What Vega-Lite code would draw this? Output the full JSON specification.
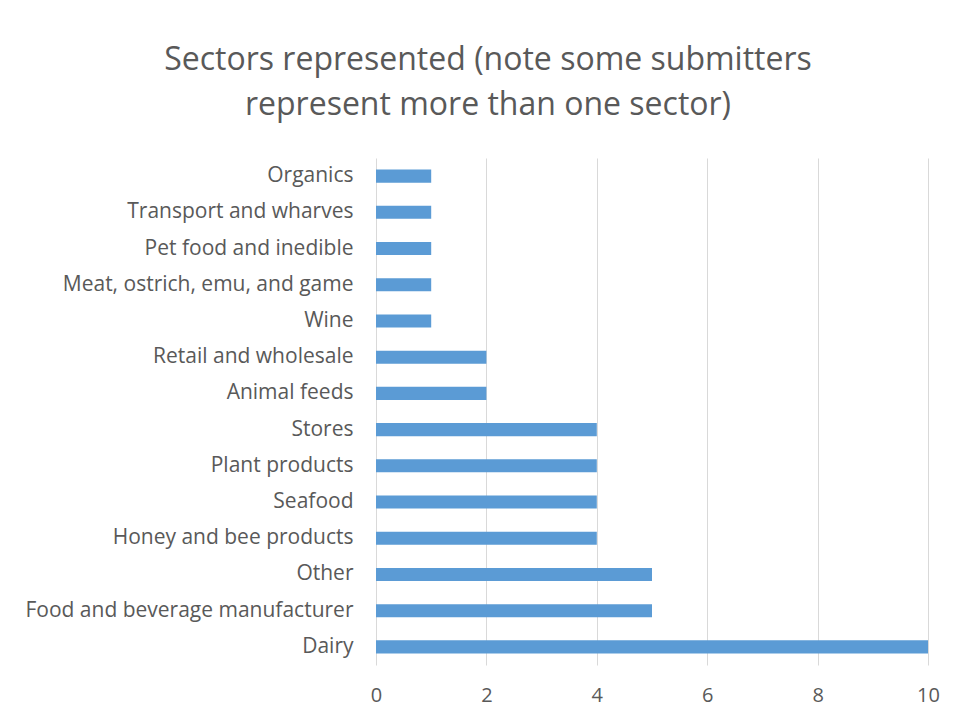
{
  "$schema": "https://vega.github.io/schema/vega-lite/v6.json",
  "autosize": {"type": "none"},
  "width": 552,
  "height": 507,
  "padding": {"left": 376, "top": 158, "right": 29, "bottom": 57},
  "background": "white",
  "title": {
    "text": ["Sectors represented (note some submitters", "represent more than one sector)"],
    "anchor": "middle",
    "dx": -164,
    "offset": 36,
    "font": "Open Sans",
    "fontSize": 32,
    "fontWeight": "normal",
    "color": "#595959",
    "lineHeight": 45
  },
  "data": {
    "values": [
      {"sector": "Organics", "count": 1},
      {"sector": "Transport and wharves", "count": 1},
      {"sector": "Pet food and inedible", "count": 1},
      {"sector": "Meat, ostrich, emu, and game", "count": 1},
      {"sector": "Wine", "count": 1},
      {"sector": "Retail and wholesale", "count": 2},
      {"sector": "Animal feeds", "count": 2},
      {"sector": "Stores", "count": 4},
      {"sector": "Plant products", "count": 4},
      {"sector": "Seafood", "count": 4},
      {"sector": "Honey and bee products", "count": 4},
      {"sector": "Other", "count": 5},
      {"sector": "Food and beverage manufacturer", "count": 5},
      {"sector": "Dairy", "count": 10}
    ]
  },
  "mark": {"type": "bar", "color": "#5B9BD5"},
  "encoding": {
    "y": {
      "field": "sector",
      "type": "nominal",
      "sort": null,
      "scale": {"paddingInner": 0.64, "paddingOuter": 0.32},
      "axis": {
        "title": null,
        "ticks": false,
        "domain": false,
        "labelPadding": 23,
        "labelFont": "Open Sans",
        "labelFontSize": 21,
        "labelColor": "#595959",
        "labelLimit": 400
      }
    },
    "x": {
      "field": "count",
      "type": "quantitative",
      "scale": {"domain": [0, 10], "nice": false},
      "axis": {
        "title": null,
        "values": [0, 2, 4, 6, 8, 10],
        "ticks": false,
        "domain": false,
        "labelFlush": false,
        "gridColor": "#D9D9D9",
        "gridWidth": 1,
        "labelPadding": 20,
        "labelFont": "Open Sans",
        "labelFontSize": 20,
        "labelColor": "#595959"
      }
    }
  },
  "config": {"view": {"stroke": null}}
}
